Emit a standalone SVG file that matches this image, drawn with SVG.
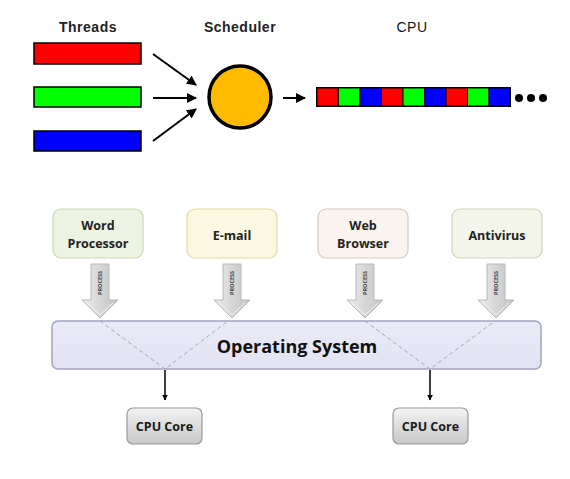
<svg xmlns="http://www.w3.org/2000/svg" width="570" height="479" viewBox="0 0 570 479">
<defs>
<style>
.title{font-family:"Liberation Sans",Arial,sans-serif;font-size:14px;font-weight:bold;fill:#222;text-anchor:middle;letter-spacing:0.5px}
.bar{stroke:#000;stroke-width:1.5}
.cell{stroke:#000;stroke-width:1}
.arr{stroke:#000;stroke-width:2;fill:none;marker-end:url(#ah)}
.app{stroke-width:1.2}
.appt{font-family:"Open Sans","Liberation Sans",sans-serif;font-size:12.5px;font-weight:bold;fill:#222;text-anchor:middle}
.proc{fill:url(#pg);stroke:#b8b8b8;stroke-width:1}
.proct{font-family:"Open Sans","Liberation Sans",sans-serif;font-size:5.5px;font-weight:bold;fill:#444;text-anchor:middle}
.dash{stroke:#a8a8b0;stroke-width:1;stroke-dasharray:4 3;fill:none}
.down{stroke:#000;stroke-width:1.5;fill:none;marker-end:url(#ah2)}
.core{fill:url(#cg);stroke:#9a9a9a;stroke-width:1.2}
.coret{font-family:"Open Sans","Liberation Sans",sans-serif;font-size:12.5px;font-weight:bold;fill:#1a1a1a;text-anchor:middle}
</style>
<marker id="ah" viewBox="0 0 10 10" refX="9" refY="5" markerWidth="5" markerHeight="5" orient="auto" markerUnits="strokeWidth">
<path d="M0,0 L10,5 L0,10 Z" fill="#000"/>
</marker>
<marker id="ah2" viewBox="0 0 10 10" refX="9" refY="5" markerWidth="4" markerHeight="4" orient="auto" markerUnits="strokeWidth">
<path d="M0,0 L10,5 L0,10 Z" fill="#000"/>
</marker>
<linearGradient id="pg" x1="0" y1="0" x2="1" y2="0">
<stop offset="0" stop-color="#eeeeee"/>
<stop offset="0.5" stop-color="#d6d6d6"/>
<stop offset="1" stop-color="#c4c4c4"/>
</linearGradient>
<linearGradient id="cg" x1="0" y1="0" x2="0" y2="1">
<stop offset="0" stop-color="#f4f4f4"/>
<stop offset="0.5" stop-color="#dcdcdc"/>
<stop offset="1" stop-color="#c8c8c8"/>
</linearGradient>
<linearGradient id="osg" x1="0" y1="0" x2="0" y2="1">
<stop offset="0" stop-color="#ebebf7"/>
<stop offset="1" stop-color="#e2e2f2"/>
</linearGradient>
</defs>

<!-- Top: threads / scheduler / CPU -->
<g id="threads">
<text class="title" x="88" y="32">Threads</text>
<rect class="bar" x="34" y="43" width="107" height="21" fill="#ff0000"/>
<rect class="bar" x="34" y="87" width="107" height="20" fill="#00ff00"/>
<rect class="bar" x="34" y="131" width="107" height="20" fill="#0000ff"/>
</g>
<g id="scheduler">
<text class="title" x="240" y="32">Scheduler</text>
<circle cx="240" cy="97" r="31" fill="#ffbb00" stroke="#000" stroke-width="3.5"/>
</g>
<g id="cpu">
<text class="title" x="412" y="32" style="font-weight:normal;fill:#111">CPU</text>
<rect x="316" y="87" width="195" height="20" fill="#000"/>
<rect class="cell" x="317" y="88" width="21" height="18" fill="#ff0000"/>
<rect class="cell" x="338.5" y="88" width="21" height="18" fill="#00ff00"/>
<rect class="cell" x="360" y="88" width="21.5" height="18" fill="#0000ff"/>
<rect class="cell" x="381.5" y="88" width="21.5" height="18" fill="#ff0000"/>
<rect class="cell" x="403" y="88" width="21.5" height="18" fill="#00ff00"/>
<rect class="cell" x="424.5" y="88" width="21.5" height="18" fill="#0000ff"/>
<rect class="cell" x="446" y="88" width="21.5" height="18" fill="#ff0000"/>
<rect class="cell" x="467.5" y="88" width="21.5" height="18" fill="#00ff00"/>
<rect class="cell" x="489" y="88" width="21" height="18" fill="#0000ff"/>
<circle cx="519" cy="98" r="4" fill="#000"/>
<circle cx="531" cy="98" r="4" fill="#000"/>
<circle cx="543" cy="98" r="4" fill="#000"/>
</g>

<g id="top-connectors">
<line class="arr" x1="153" y1="54" x2="196" y2="85"/>
<line class="arr" x1="153" y1="98" x2="196" y2="98"/>
<line class="arr" x1="153" y1="141" x2="196" y2="109"/>
<line class="arr" x1="283" y1="98" x2="305" y2="98"/>
</g>

<!-- Bottom: OS diagram -->
<g id="word">
<rect class="app" x="53" y="209" width="90" height="49" rx="8" fill="#edf3e3" stroke="#c9d8b4"/>
<text class="appt" x="98" y="230">Word</text>
<text class="appt" x="98" y="248">Processor</text>
</g>
<g id="email">
<rect class="app" x="187" y="209" width="90" height="49" rx="8" fill="#fbf8e2" stroke="#e0d9a6"/>
<text class="appt" x="232" y="240">E-mail</text>
</g>
<g id="web">
<rect class="app" x="318" y="209" width="90" height="49" rx="8" fill="#faf3ee" stroke="#d8c9bd"/>
<text class="appt" x="363" y="230">Web</text>
<text class="appt" x="363" y="248">Browser</text>
</g>
<g id="antivirus">
<rect class="app" x="452" y="209" width="90" height="49" rx="8" fill="#f4f5ea" stroke="#cfd3b9"/>
<text class="appt" x="497" y="240">Antivirus</text>
</g>

<g id="process-arrows">
<g transform="translate(100,0)">
<path class="proc" d="M-9,264 H9 V300 H18 L0,318 L-18,300 H-9 Z"/>
<path d="M-13,303 L0,315 L13,303" fill="none" stroke="#f2f2f2" stroke-width="1"/>
<text class="proct" transform="translate(2,283) rotate(-90)">PROCESS</text>
</g>
<g transform="translate(232,0)">
<path class="proc" d="M-9,264 H9 V300 H18 L0,318 L-18,300 H-9 Z"/>
<path d="M-13,303 L0,315 L13,303" fill="none" stroke="#f2f2f2" stroke-width="1"/>
<text class="proct" transform="translate(2,283) rotate(-90)">PROCESS</text>
</g>
<g transform="translate(365,0)">
<path class="proc" d="M-9,264 H9 V300 H18 L0,318 L-18,300 H-9 Z"/>
<path d="M-13,303 L0,315 L13,303" fill="none" stroke="#f2f2f2" stroke-width="1"/>
<text class="proct" transform="translate(2,283) rotate(-90)">PROCESS</text>
</g>
<g transform="translate(496,0)">
<path class="proc" d="M-9,264 H9 V300 H18 L0,318 L-18,300 H-9 Z"/>
<path d="M-13,303 L0,315 L13,303" fill="none" stroke="#f2f2f2" stroke-width="1"/>
<text class="proct" transform="translate(2,283) rotate(-90)">PROCESS</text>
</g>
</g>

<g id="os">
<rect x="52" y="321" width="489" height="48" rx="6" fill="url(#osg)" stroke="#a3a3c2" stroke-width="1.5"/>
<text x="297" y="353" style="font-family:'Open Sans','Liberation Sans',sans-serif;font-size:18px;font-weight:bold;fill:#111;text-anchor:middle">Operating System</text>
</g>

<g id="os-connectors">
<polyline class="dash" points="100,321 165,369 228,321"/>
<polyline class="dash" points="365,321 430,369 495,321"/>
<line class="down" x1="165" y1="370" x2="165" y2="400"/>
<line class="down" x1="430" y1="370" x2="430" y2="400"/>
</g>

<g id="core1">
<rect class="core" x="127" y="408" width="75" height="36" rx="6"/>
<text class="coret" x="164.5" y="431">CPU Core</text>
</g>
<g id="core2">
<rect class="core" x="393" y="408" width="75" height="36" rx="6"/>
<text class="coret" x="430.5" y="431">CPU Core</text>
</g>
</svg>
